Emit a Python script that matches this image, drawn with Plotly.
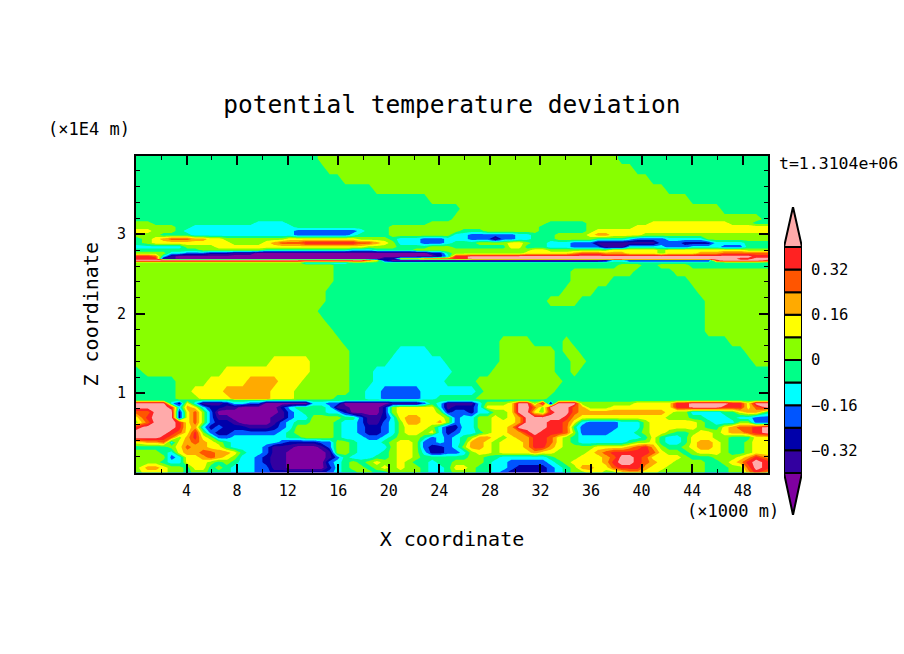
import plotly.graph_objects as go

# ---- Band codes (a = coldest ... l = warmest) ----
band_codes = "abcdefghijkl"
band_values = [-0.44, -0.36, -0.28, -0.20, -0.12, -0.04, 0.04, 0.12, 0.20, 0.28, 0.36, 0.44]
band_colors = ["#7f00a0", "#3300a0", "#0000aa", "#0055ff", "#00ffff", "#00ff88",
               "#88ff00", "#ffff00", "#ffaa00", "#ff5500", "#ff2222", "#ffaaaa"]
level_edges = [-0.48, -0.40, -0.32, -0.24, -0.16, -0.08, 0.0, 0.08, 0.16, 0.24, 0.32, 0.40, 0.48]

n_cols = 80
x_km = [0.0] + [(i + 0.5) * 50 / n_cols for i in range(1, n_cols - 1)] + [50.0]

# Each row: band letter + column where this band begins (run-length table of the grid)
upper_z = [4.0, 3.95, 3.82, 3.69, 3.57, 3.44, 3.32, 3.19]
upper_rows = [
    "f0 g23 f61",
    "f0 g23 f61",
    "f0 g24 f63",
    "f0 g26 f65",
    "f0 g30 f67",
    "f0 g37 f70",
    "f0 g41 f74",
    "f0 g40 f79",
]
band_z = [3.14, 3.09, 3.04, 2.99, 2.94, 2.89, 2.84, 2.80, 2.76, 2.72, 2.69, 2.67, 2.64, 2.61]
band_rows = [
    "g0 f2 e15 f19 g37 f52 g57 h65 g75 f78",
    "g0 f5 e7 f20 g32 f51 g57 h63",
    "h0 g2 f5 e6 d20 e28 f29 g32 f41 g44 f51 g57 h58",
    "g0 f3 e7 d20 e27 f28 g32 e40 d42 e48 f50 g53 h57 i58 h60 g64",
    "f0 g1 h2 i3 j4 i7 h9 g11 h19 g28 f32 e33 d36 e39 d42 b45 d46 e48 f50 g53 f58 e62 d63 e67 g72",
    "f0 g1 h2 g12 h16 i17 j18 k21 j28 i30 h31 g32 e33 d36 e39 f40 g43 h47 g49 f50 e52 d55 b58 d66 c69 e73 f77",
    "e0 g6 h10 g29 f33 g37 f40 h47 f49 e52 d55 b59 e62 d67 e70 d74 f77",
    "f0 g8 f16 e27 f30 g35 h50 g52 h60 g66 h67 g77",
    "g0 e4 d6 c9 b12 a15 c37 f39 g40 h49 i55 j56 i59 h62 g66 h67 i71 j74",
    "k0 j2 e3 b4 a5 c38 e39 k40 l42 k78",
    "k0 b3 a5 c31 h33 j36 k40 l42 k76 l78",
    "l0 j29 h30 c31 a32 b59 e60 c62 k73 l74 k79",
    "g0 e21 f27",
    "g0 f25 g61 f64 g66 f70",
]
mid_z = [2.53, 2.41, 2.28, 2.16, 2.03, 1.90, 1.78, 1.65, 1.53, 1.40, 1.27, 1.15, 1.02, 0.93, 0.91]
mid_rows = [
    "g0 f25 g55 f63 g68",
    "g0 f25 g55 f60 g70",
    "g0 f24 g54 f58 g71",
    "g0 f24 g52 f56 g72",
    "g0 f23 g72",
    "g0 f24 g72",
    "g0 f25 g72",
    "g0 f26 g46 f50 g54 f55 g75",
    "g0 f27 e33 f37 g46 f53 g54 f56 g77",
    "g0 h17 g22 f27 e32 f39 g46 f53 g55 f57 g78",
    "f0 g1 h11 g22 f27 e30 f40 g45 f53 g55 f56",
    "f0 g5 h9 i14 h18 g21 f27 e30 f39 g43 f54",
    "f0 g5 h7 i11 h17 g20 f27 e29 d31 e36 f43 g44 f53",
    "f0 g5 h8 i12 h17 g20 f25 e29 d31 e36 f38 g43 f52",
    "f0",
]
lower_z = [0.87, 0.82, 0.76, 0.69, 0.63, 0.57, 0.50, 0.44, 0.38, 0.32, 0.25, 0.19, 0.13, 0.06, 0.0]
lower_rows = [
    "l0 e4 c5 h6 e7 b8 c11 e12 d14 a16 e22 d24 a26 b32 d36 f37 e38 b39 e43 g44 h47 l48 g50 l51 b52 l53 g56 h63 k68 l70 k75 h77 l78",
    "l0 k4 e5 i6 h7 e8 c9 b11 a13 c18 e19 f20 e24 b25 a27 c31 g32 h33 e38 b39 c40 e43 h44 l48 j50 g51 l52 j55 i56 g57 h60 k68 l70 k74 h77 j78 l79",
    "j0 l2 j5 c5 h6 j7 g8 d9 a10 b18 d19 e20 f21 e24 c26 a27 c31 g32 h33 g38 c39 d40 c42 e43 g45 h47 l48 h50 g51 k52 l53 j55 i56 h67 g68 e70 f74 h76 i77 f79",
    "h0 k1 l2 k5 c5 h6 j7 g8 d9 b10 a12 b17 d19 e20 g22 f26 d28 b29 c31 e32 h33 i34 h36 g39 d40 e41 g43 h45 g46 h47 i48 l49 k52 l52 k54 i55 h56 g67 f70 e72 f75 e76 d78",
    "g0 j1 l2 k5 h6 j7 g8 d9 c10 b12 a13 b17 d18 e19 f20 g22 f25 e26 d28 b29 d31 e32 g33 i34 h36 i38 g39 d40 e41 g43 h45 i48 l49 k52 j54 h55 e56 d57 e61 g64 h65 g71 f72 e73 g76 d78",
    "k0 l1 k5 h6 i7 e8 c9 d10 c11 b14 c17 d18 e19 g20 f25 e26 d28 c29 d31 e32 g33 h34 g37 e38 c39 c40 e41 g43 h45 i47 l48 k52 j54 f55 d56 e61 g64 h65 g71 f72 h74 i75 j76 k78 l79",
    "l0 k4 j5 h6 k7 g8 d9 c10 d12 e18 f19 g20 f25 e26 d28 c29 d31 e32 g33 h34 g36 h37 e38 c39 d40 e41 f43 g44 h45 i47 k49 l50 k51 j54 g55 e56 d56 e60 f63 g64 h65 g67 f68 g70 h71 g73 h74 i75 j77 k78 l79",
    "l0 k3 j4 d5 g5 i6 k7 h8 g9 e10 d10 e12 f19 g21 f25 e26 d29 e31 f32 g33 f36 d37 e38 d39 e40 f41 g42 i43 h45 g46 h47 i48 h50 k50 j52 h53 g54 f55 e56 f64 h65 f66 e67 f69 h70 g73 f75 h78",
    "h0 i1 j3 h4 e4 h5 i6 j7 i8 h9 g10 f11 e12 d18 c19 d23 g25 f27 e28 f31 g32 h33 g35 d36 e38 d39 e40 f41 i42 h44 g45 h46 i49 k50 j52 h53 g54 f55 e56 f62 g63 h65 f66 e67 f69 h70 i71 h73 g74 f75 g77 h78",
    "f0 g4 h5 j6 i7 h9 f11 e12 d16 b17 a20 b23 d24 g25 f27 e28 g32 h33 g35 d36 c37 d39 e40 g41 i42 h44 g45 h46 i49 k50 i52 h53 g54 h58 i62 j63 k64 i65 g66 f67 g69 h70 i71 h73 g74 f75 g77 h78",
    "g0 f3 e4 h5 i6 j8 i10 h12 f13 e14 d16 b17 a19 b24 e25 g25 f27 e28 f31 g32 h33 g35 e36 c37 d39 d40 e41 g42 h43 g45 h46 i50 h51 g53 h57 i58 j59 k60 j65 h66 g67 f69 g70 h71 g74 f75 g77 h78",
    "g0 e4 d4 e5 g6 h6 i8 j9 i10 h11 g12 e13 d15 c16 b17 a19 b24 d25 f26 e27 f30 g32 h33 g35 f36 f40 g42 f44 e46 f52 g53 h56 i59 j60 l61 k63 j64 h65 g69 f70 g73 h76 i77 k78 i79",
    "g0 f3 e4 f6 h6 g9 f10 g11 f12 e13 d15 c16 b17 a19 b24 d24 e25 f26 g27 f28 g29 h30 g31 h33 g34 f35 e37 f38 g40 f44 e45 d47 e52 f53 g54 h55 i59 k60 l61 k63 j64 i65 h66 g68 f72 g74 h75 i76 k77 l78 k79",
    "g0 i1 h3 g4 f6 g7 h7 g9 f9 g10 f11 e12 d15 b17 a19 c24 e25 f26 g27 f29 g30 h31 g32 h33 g34 f36 e37 f39 h40 g42 f43 e45 d47 c48 d52 e53 f54 g55 i56 h58 j60 k61 i64 h65 g67 f72 g75 j77 l78 k79",
    "g0 h1 g4 f6 g7 f9 e12 d15 c17 d24 e25 f26 g28 f30 g32 f36 e37 f39 g40 f43 e45 d46 c47 d52 e53 f54 g55 h57 g59 h61 i62 h64 g66 f72 g75 i77 k78 i79",
]

x_tick_labels = [4, 8, 12, 16, 20, 24, 28, 32, 36, 40, 44, 48]
x_minor_ticks = [2, 6, 10, 14, 18, 22, 26, 30, 34, 38, 42, 46]
z_tick_labels = [1, 2, 3]
z_minor_ticks = [0.2, 0.4, 0.6, 0.8, 1.2, 1.4, 1.6, 1.8, 2.2, 2.4, 2.6, 2.8, 3.2, 3.4, 3.6, 3.8]
cbar_tick_labels = [-0.32, -0.16, 0, 0.16, 0.32]


def expand(row):
    cells = [None] * n_cols
    tokens = row.split()
    for k, tok in enumerate(tokens):
        start = int(tok[1:])
        stop = int(tokens[k + 1][1:]) if k + 1 < len(tokens) else n_cols
        for c in range(start, stop):
            cells[c] = band_values[band_codes.index(tok[0])]
    return cells


all_z = upper_z + band_z + mid_z + lower_z
all_rows = upper_rows + band_rows + mid_rows + lower_rows
assert len(all_z) == len(all_rows)
pairs = sorted(zip(all_z, all_rows), key=lambda p: p[0])
z_axis = [p[0] for p in pairs]
grid = [expand(p[1]) for p in pairs]

# stepped colour scale
vmin, vmax = level_edges[0], level_edges[-1]
scale = []
for i, col in enumerate(band_colors):
    scale.append([(level_edges[i] - vmin) / (vmax - vmin), col])
    scale.append([(level_edges[i + 1] - vmin) / (vmax - vmin), col])

FONT = "DejaVu Sans Mono"
W, H = 904, 654


def px_x(a, b):
    return [a / W, b / W]


def px_y(top, bottom):
    return [1 - bottom / H, 1 - top / H]


fig = go.Figure()
fig.add_trace(go.Contour(
    x=x_km, y=z_axis, z=grid,
    colorscale=scale, zmin=vmin, zmax=vmax, showscale=False,
    autocontour=False,
    contours=dict(start=-0.4, end=0.4, size=0.08, coloring="fill", showlines=False),
    line=dict(width=0, smoothing=0),
    hoverinfo="skip",
))

# colour bar built on its own axes
inner = list(range(1, 11))
fig.add_trace(go.Bar(
    x=[0] * len(inner),
    y=[level_edges[i + 1] - level_edges[i] for i in inner],
    base=[level_edges[i] for i in inner],
    width=1,
    marker=dict(color=[band_colors[i] for i in inner], line=dict(color="black", width=2)),
    xaxis="x2", yaxis="y2", showlegend=False, hoverinfo="skip",
))
fig.add_trace(go.Scatter(
    x=[-0.5, 0, 0.5, -0.5], y=[0.40, 0.5416, 0.40, 0.40], fill="toself",
    fillcolor=band_colors[-1], mode="lines", line=dict(color="black", width=2),
    xaxis="x2", yaxis="y2", showlegend=False, hoverinfo="skip",
))
fig.add_trace(go.Scatter(
    x=[-0.5, 0, 0.5, -0.5], y=[-0.40, -0.549, -0.40, -0.40], fill="toself",
    fillcolor=band_colors[0], mode="lines", line=dict(color="black", width=2),
    xaxis="x2", yaxis="y2", showlegend=False, hoverinfo="skip",
))

fig.update_layout(
    width=W, height=H, margin=dict(l=0, r=0, t=0, b=0),
    paper_bgcolor="white", plot_bgcolor="white", showlegend=False, barmode="overlay",
    font=dict(family=FONT, color="black", size=15),
    title=dict(text="potential temperature deviation", font=dict(family=FONT, size=24.5),
               x=452 / W, xanchor="center", y=1 - 104 / H, yanchor="middle"),
    xaxis=dict(domain=px_x(136, 768), range=[0, 50], tickmode="array", tickvals=x_tick_labels,
               ticks="inside", ticklen=9, tickwidth=2, tickcolor="black", ticklabelstandoff=3,
               showline=True, linecolor="black", linewidth=2, mirror="allticks", showgrid=False, zeroline=False,
               minor=dict(tickmode="array", tickvals=x_minor_ticks, ticks="inside", ticklen=4,
                          tickwidth=1, tickcolor="black", showgrid=False),
               title=dict(text="X coordinate", font=dict(family=FONT, size=20), standoff=33),
               tickfont=dict(family=FONT, size=15)),
    yaxis=dict(domain=px_y(156, 472.5), range=[0, 3.985], tickmode="array", tickvals=z_tick_labels,
               ticks="inside", ticklen=9, tickwidth=2, tickcolor="black", ticklabelstandoff=5,
               showline=True, linecolor="black", linewidth=2, mirror="allticks", showgrid=False, zeroline=False,
               minor=dict(tickmode="array", tickvals=z_minor_ticks, ticks="inside", ticklen=4,
                          tickwidth=1, tickcolor="black", showgrid=False),
               title=dict(text="Z coordinate", font=dict(family=FONT, size=20), standoff=13),
               tickfont=dict(family=FONT, size=15)),
    xaxis2=dict(domain=px_x(784, 802), range=[-0.5, 0.5], visible=False, anchor="y2"),
    yaxis2=dict(domain=px_y(207, 515), range=[-0.549, 0.5416], anchor="x2", side="right",
                tickmode="array", tickvals=cbar_tick_labels, ticktext=["−0.32", "−0.16", "0", "0.16", "0.32"],
                ticks="", ticklabelstandoff=8, showline=False, showgrid=False, zeroline=False,
                tickfont=dict(family=FONT, size=15.5)),
    annotations=[
        dict(text="(×1E4 m)", x=89 / W, y=1 - 129 / H, xref="paper", yref="paper",
             showarrow=False, xanchor="center", yanchor="middle", font=dict(family=FONT, size=17)),
        dict(text="(×1000 m)", x=733 / W, y=1 - 511 / H, xref="paper", yref="paper",
             showarrow=False, xanchor="center", yanchor="middle", font=dict(family=FONT, size=17)),
        dict(text="t=1.3104e+06", x=838 / W, y=1 - 163 / H, xref="paper", yref="paper",
             showarrow=False, xanchor="center", yanchor="middle", font=dict(family=FONT, size=16.5)),
    ],
)

fig.write_html("out.html", config=dict(displayModeBar=False),
               post_script="document.body.style.margin='0';document.body.style.overflow='hidden';")
